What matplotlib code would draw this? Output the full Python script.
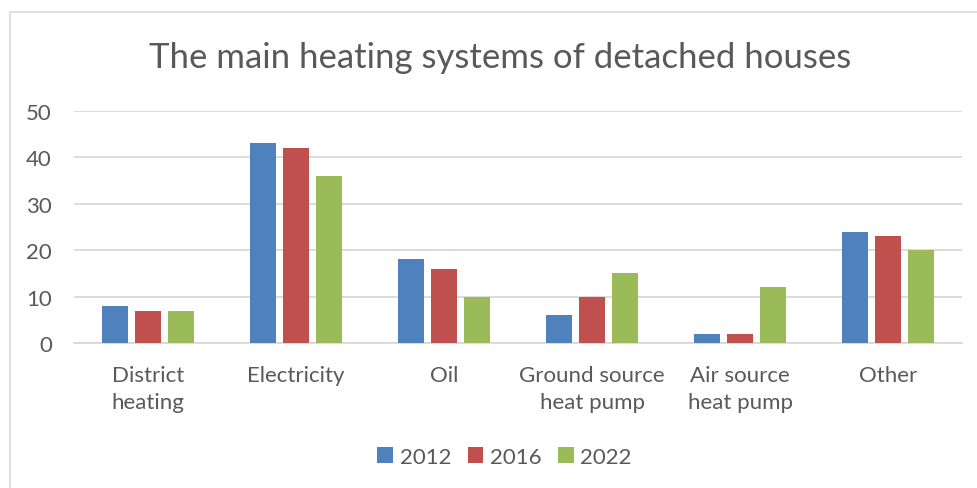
import numpy as np
import matplotlib.pyplot as plt
from matplotlib.patches import Rectangle

plt.rcParams['font.family'] = ['Lato', 'DejaVu Sans']

# Share of detached houses by main heating system (%)
categories = ['District\nheating', 'Electricity', 'Oil',
              'Ground source\nheat pump', 'Air source\nheat pump', 'Other']
years = ['2012', '2016', '2022']
values_2012 = [8, 43, 18, 6, 2, 24]
values_2016 = [7, 42, 16, 10, 2, 23]
values_2022 = [7, 36, 10, 15, 12, 20]
colors = ['#4F81BD', '#C0504D', '#9BBB59']

text_color = '#595959'
grid_color = '#D9D9D9'

fig = plt.figure(figsize=(9.78, 4.89), dpi=100)
ax = fig.add_axes([0.0757, 0.2965, 0.908, 0.4745])

# outer chart frame (runs off the right and bottom edges)
fig.patches.append(Rectangle((10 / 978, -0.1), 1.2, 1 - 13 / 489 + 0.1,
                             transform=fig.transFigure, fill=False,
                             edgecolor=grid_color, linewidth=1.2))

x = np.arange(len(categories))
step = 0.2235
width = 0.176
for k, (vals, label) in enumerate(zip([values_2012, values_2016, values_2022], years)):
    ax.bar(x + (k - 1) * step, vals, width, color=colors[k], label=label, zorder=3)

ax.set_xlim(-0.5, len(categories) - 0.5)
ax.set_ylim(0, 50)
ax.set_yticks(range(0, 51, 10))
ax.yaxis.grid(True, color=grid_color, linewidth=1.3, zorder=0)
for s in ['top', 'right', 'left']:
    ax.spines[s].set_visible(False)
ax.spines['bottom'].set_color(grid_color)
ax.spines['bottom'].set_linewidth(1.3)

ax.set_xticks(x)
ax.set_xticklabels(categories, fontsize=16, color=text_color, linespacing=1.45)
ax.tick_params(axis='x', length=0, pad=16)
ax.tick_params(axis='y', length=0, pad=16, labelsize=16, labelcolor=text_color)

fig.text(0.511, 1 - 58 / 489, 'The main heating systems of detached houses',
         ha='center', va='center', fontsize=25, color=text_color)

fig.legend(loc='center', bbox_to_anchor=(0.516, 1 - 458 / 489), ncol=3,
           frameon=False, fontsize=16, handlelength=0.7, handleheight=0.7,
           handletextpad=0.3, columnspacing=0.75, labelcolor=text_color)

fig.savefig('out.png', dpi=100)
